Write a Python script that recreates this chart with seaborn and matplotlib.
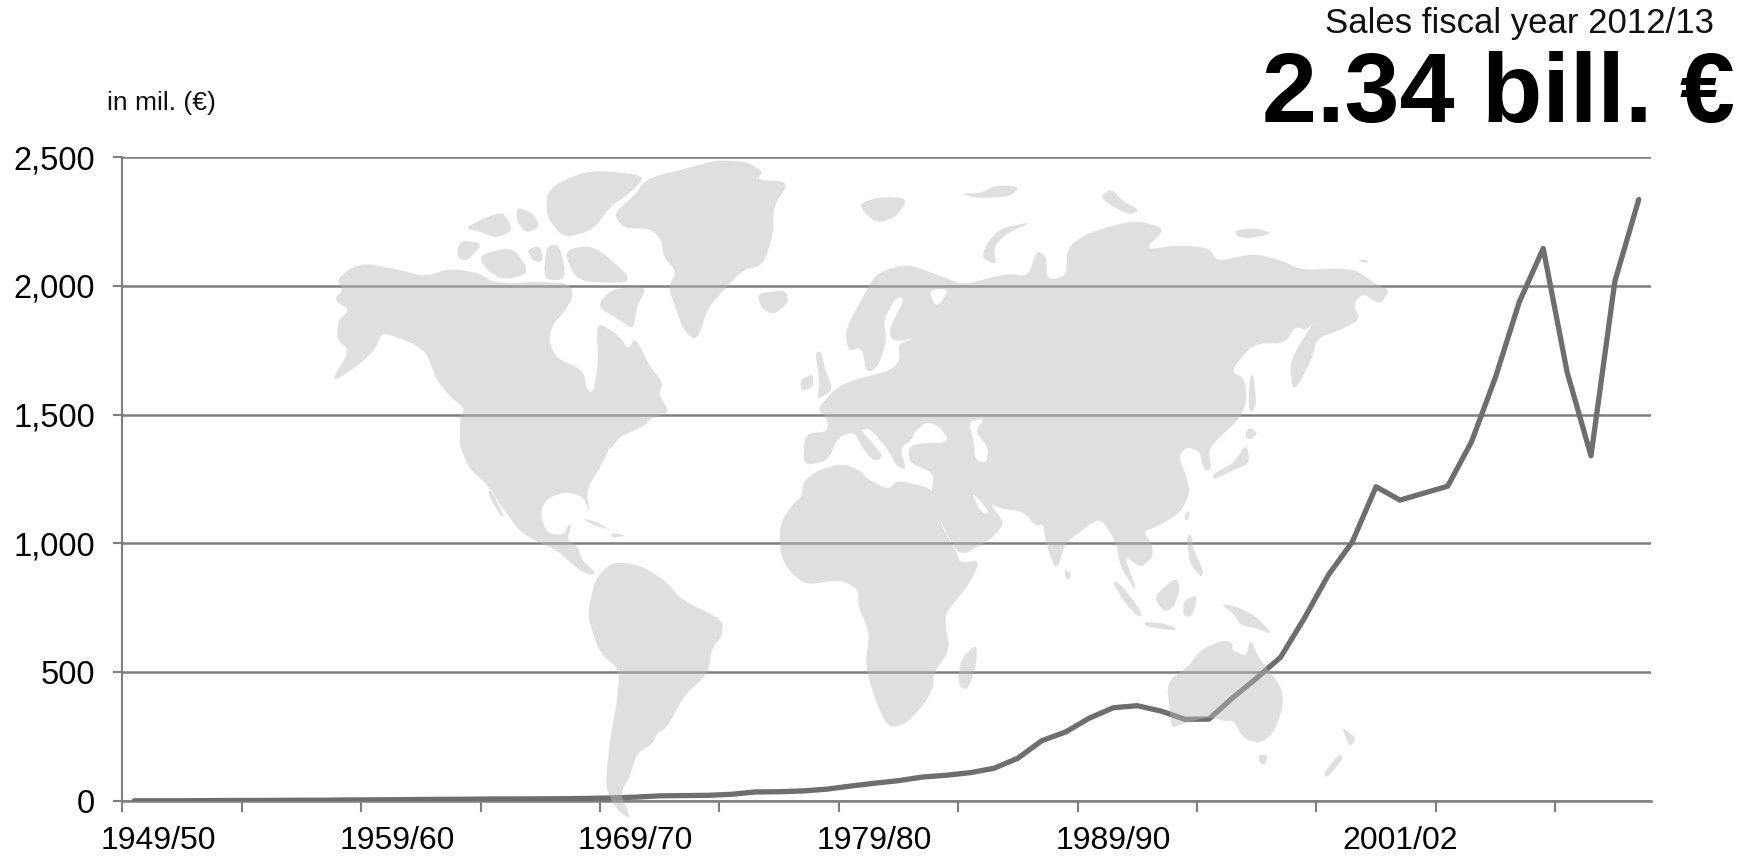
import numpy as np
import pandas as pd
import seaborn as sns
import matplotlib.pyplot as plt
from matplotlib.path import Path
from matplotlib.patches import PathPatch
from matplotlib.transforms import Affine2D

W, H = 1754, 857

# sales in mil. EUR, one value per fiscal year 1949/50 .. 2012/13
start_years = list(range(1949, 2013))
sales = [1, 1, 1, 1.5, 2, 2, 2.5, 3, 3, 4,
         4.5, 5, 6, 6.5, 7, 8, 8, 8.5, 9, 10,
         12, 15, 20, 21, 22, 26, 35, 36, 39, 46,
         58, 69, 79, 93, 100, 110, 127, 166, 234, 268,
         322, 362, 370, 349, 317, 318, 401, 477, 558, 710,
         877, 1005, 1220, 1168, 1195, 1222, 1395, 1645, 1938, 2145,
         1665, 1340, 2018, 2335]
y_ticks = [0, 500, 1000, 1500, 2000, 2500]
labelled_years = [1949, 1959, 1969, 1979, 1989, 2001]

sales_df = pd.DataFrame({"pos": [i + 0.5 for i in range(len(sales))], "sales": sales})


# map outlines, read per zoomed crop: (crop x, crop y, points at 3x)
def crop(x0, y0, pts):
    return [(x0 + a / 3, y0 + b / 3) for a, b in pts]


north_america = crop(300, 150, [(110, 390), (150, 355), (200, 340), (300, 360), (375, 380), (450, 355), (540, 370),
                                (575, 395), (640, 400), (700, 395), (810, 400), (820, 440), (790, 490), (760, 520),
                                (745, 570), (770, 625), (850, 660), (860, 720), (880, 730), (895, 640), (890, 540),
                                (900, 520), (960, 560), (985, 600), (1005, 560), (1050, 650), (1090, 700), (1075, 730),
                                (1110, 790), (1060, 800), (1030, 830), (960, 860), (930, 900)]) \
    + crop(450, 440, [(480, 20), (455, 75), (420, 130), (410, 165), (420, 220), (400, 170), (350, 155), (290, 175),
                      (270, 220), (290, 280), (340, 285), (355, 255), (365, 255), (350, 300), (385, 320), (395, 360),
                      (440, 400), (415, 405), (375, 380), (320, 330), (250, 300), (205, 270), (170, 220), (100, 120),
                      (60, 90), (30, 20), (30, 0)]) \
    + crop(300, 150, [(480, 870), (480, 800), (495, 775), (450, 740), (410, 690), (380, 610), (340, 580), (270, 555),
                      (245, 550), (225, 600), (170, 650), (90, 700), (150, 600), (110, 570), (115, 510), (150, 480),
                      (100, 450), (130, 420)])
arctic = [crop(300, 150, p) for p in [
    [(1040, 85), (1180, 50), (1250, 30), (1340, 35), (1390, 65), (1370, 90), (1470, 95), (1420, 170), (1420, 250),
     (1390, 345), (1330, 360), (1290, 400), (1225, 470), (1190, 575), (1150, 540), (1125, 470), (1105, 410),
     (1130, 365), (1090, 320), (1085, 270), (1050, 235), (970, 235), (940, 190), (1000, 140)],
    [(740, 130), (780, 95), (870, 60), (1040, 75), (990, 130), (930, 170), (880, 240), (790, 265), (740, 200)],
    [(495, 235), (550, 205), (610, 185), (640, 240), (590, 265), (540, 245)],
    [(650, 170), (700, 190), (720, 230), (680, 250), (650, 215)],
    [(480, 270), (550, 280), (500, 335), (470, 320)],
    [(535, 315), (640, 290), (690, 370), (610, 390), (560, 360)],
    [(680, 300), (720, 285), (730, 335), (700, 335)],
    [(740, 285), (780, 285), (800, 390), (730, 390)],
    [(790, 300), (880, 285), (980, 370), (985, 400), (830, 395)],
    [(930, 420), (1000, 410), (1040, 415), (1010, 470), (1000, 540), (960, 510), (890, 470)],
    [(1370, 430), (1460, 420), (1465, 460), (1420, 495), (1385, 475)],
]]
south_america = crop(450, 440, [(440, 410), (490, 365), (570, 375), (650, 425), (695, 480), (820, 540), (815, 590),
                                (785, 625), (775, 700), (700, 770), (650, 865), (620, 880), (610, 910), (560, 940),
                                (540, 1010), (510, 1060), (545, 1140), (500, 1110), (465, 1040), (480, 900),
                                (500, 790), (510, 690), (450, 640), (415, 540), (420, 480)])
africa = crop(760, 420, [(130, 185), (175, 150), (250, 130), (305, 155), (320, 175), (385, 210), (410, 180), (495, 200),
                         (520, 215), (545, 320), (590, 395), (600, 430), (660, 420), (630, 490), (560, 575), (555, 610),
                         (570, 690), (520, 760), (520, 800), (495, 850), (440, 910), (385, 925), (345, 840), (315, 730),
                         (330, 640), (295, 560), (295, 510), (265, 490), (230, 480), (135, 495), (85, 450), (60, 400),
                         (60, 310), (100, 250), (125, 230)])
eurasia = crop(780, 170, [(195, 480), (260, 360), (290, 310), (380, 280), (500, 325), (550, 345), (680, 310), (745, 320),
                          (770, 240), (800, 260), (800, 330), (860, 320), (860, 235), (920, 190), (1060, 150),
                          (1160, 175), (1090, 240), (1200, 225), (1290, 235), (1310, 275), (1420, 250), (1500, 270)]) \
    + crop(1000, 250, [(905, 60), (1000, 55), (1070, 60), (1130, 105), (1170, 120), (1140, 165), (1090, 130),
                       (1060, 160), (1080, 210), (1020, 240), (950, 265), (935, 330), (880, 430), (870, 350),
                       (885, 305), (945, 210), (920, 240), (885, 230), (855, 280), (760, 280), (690, 365), (735, 385),
                       (740, 460), (715, 510), (660, 560), (625, 600), (635, 660), (610, 660), (600, 605), (560, 590),
                       (535, 620), (560, 680), (570, 730), (540, 790), (470, 830), (430, 845), (455, 880)]) \
    + crop(1060, 500, [(280, 170), (240, 205), (190, 160), (235, 285), (180, 200), (170, 130), (130, 65), (110, 60),
                       (60, 95), (15, 130)]) \
    + crop(760, 420, [(890, 455), (860, 380), (850, 310), (830, 320), (790, 275), (720, 265), (690, 250), (735, 310),
                      (690, 360), (600, 410), (560, 340), (510, 235), (525, 160), (450, 130), (445, 90), (465, 70),
                      (570, 68), (540, 20), (500, 5), (465, 35), (455, 60), (420, 85), (440, 150), (410, 140),
                      (385, 90), (330, 25), (300, 30), (335, 65), (370, 110), (345, 125), (310, 90), (285, 35),
                      (235, 50), (205, 120), (150, 135), (130, 125), (135, 40), (205, 35)]) \
    + crop(780, 170, [(140, 740), (110, 720), (170, 650), (240, 625), (335, 600), (360, 570), (355, 520), (410, 505),
                      (340, 515), (325, 480), (375, 385), (350, 380), (310, 450), (320, 510), (295, 590), (260, 610),
                      (245, 530), (205, 545)])
north_islands = [crop(780, 170, p) for p in [
    [(105, 545), (125, 545), (135, 600), (160, 660), (110, 690), (120, 640)],
    [(60, 630), (100, 610), (100, 650), (65, 665)],
    [(240, 100), (300, 80), (385, 85), (350, 140), (290, 160), (250, 125)],
    [(620, 220), (660, 175), (760, 155), (680, 190), (640, 230), (650, 285), (605, 265)],
    [(540, 70), (600, 70), (650, 45), (720, 50), (690, 80), (590, 85)],
    [(960, 80), (995, 55), (1030, 95), (1080, 120), (1050, 135), (990, 105)],
    [(1365, 180), (1430, 175), (1480, 190), (1410, 205), (1370, 200)],
]]
pacific_islands = [crop(1000, 250, p) for p in [
    [(1070, 30), (1105, 30), (1100, 40)],
    [(750, 375), (760, 375), (770, 460), (755, 490), (745, 470)],
    [(740, 580), (750, 640), (700, 660), (640, 690), (640, 670), (700, 640)],
    [(745, 530), (775, 550), (750, 570), (735, 560)],
    [(555, 790), (570, 780), (565, 810), (555, 810)],
]]
oceania = [crop(1060, 500, p) for p in [
    [(380, 105), (395, 105), (400, 150), (430, 210), (425, 235), (390, 190), (385, 150)],
    [(155, 240), (185, 255), (245, 335), (240, 355), (195, 310)],
    [(250, 365), (310, 370), (350, 385), (340, 392), (260, 380)],
    [(280, 290), (350, 230), (360, 270), (340, 325), (310, 335)],
    [(370, 300), (415, 285), (395, 350), (370, 350)],
    [(480, 310), (530, 320), (590, 350), (640, 405), (590, 385), (540, 375), (525, 345)],
    [(320, 545), (385, 500), (420, 450), (490, 420), (520, 430), (515, 450), (560, 470), (570, 415), (600, 480),
     (665, 560), (670, 620), (640, 700), (600, 730), (550, 715), (520, 660), (500, 665), (450, 650), (370, 670),
     (335, 685), (330, 640)],
    [(595, 765), (625, 765), (615, 795), (600, 790)],
    [(845, 680), (890, 715), (870, 740), (860, 720)],
    [(840, 760), (850, 775), (800, 835), (790, 820)],
]]
small_islands = [crop(760, 420, [(650, 670), (650, 730), (625, 810), (595, 800), (600, 720)]),
                 crop(760, 420, [(915, 445), (935, 465), (925, 480), (915, 470)]),
                 crop(450, 440, [(395, 235), (440, 245), (480, 270), (430, 255)]),
                 crop(450, 440, [(480, 280), (530, 285), (490, 295)])]
# inland seas, cut out of the land
holes = [crop(780, 170, [(565, 755), (615, 745), (585, 785), (625, 830), (620, 880), (585, 870), (580, 810)]),
         crop(780, 170, [(445, 360), (510, 355), (470, 415)]),
         crop(760, 420, [(635, 220), (655, 235), (690, 280), (665, 280)]),
         crop(450, 440, [(120, 140), (165, 235), (150, 225), (115, 165)])]
land = [north_america, south_america, africa, eurasia] + arctic + north_islands + pacific_islands + oceania + small_islands


# corner cutting, the coast of the original is soft
def soften(pts, rounds=2):
    pts = np.array(pts)
    for _ in range(rounds):
        nxt = np.roll(pts, -1, axis=0)
        pts = np.column_stack([0.8 * pts + 0.2 * nxt, 0.2 * pts + 0.8 * nxt]).reshape(-1, 2)
    return pts


def ring(pts, ccw=True):
    pts = soften(pts)
    x, y = pts[:, 0], pts[:, 1]
    area = np.sum(x * np.roll(y, -1) - np.roll(x, -1) * y)
    if (area > 0) != ccw:
        pts = pts[::-1]
    codes = [Path.MOVETO] + [Path.LINETO] * (len(pts) - 1) + [Path.CLOSEPOLY]
    return np.vstack([pts, pts[0]]), codes


rings = [ring(p) for p in land] + [ring(p, ccw=False) for p in holes]
map_path = Path(np.vstack([r[0] for r in rings]), sum([r[1] for r in rings], []))

sns.set_theme(style="white")
plt.rcParams["font.family"] = ["Liberation Sans", "DejaVu Sans"]

fig = plt.figure(figsize=(W / 100, H / 100), dpi=100)
ax = fig.add_axes([122.3 / W, 1 - 801 / H, 1528.4 / W, 644 / H])

grey = "#7f7f7f"
sns.lineplot(data=sales_df, x="pos", y="sales", color="#6e6e6e", linewidth=3.8, ax=ax,
             solid_capstyle="round", solid_joinstyle="round", zorder=3)
ax.set_xlim(0, 64)
ax.set_ylim(0, 2500)
ax.set_xlabel("")
ax.set_ylabel("")

ax.yaxis.grid(True, color=grey, linewidth=1.8)
ax.set_axisbelow(True)
for side in ["top", "right"]:
    ax.spines[side].set_visible(False)
for side in ["left", "bottom"]:
    ax.spines[side].set_color(grey)
    ax.spines[side].set_linewidth(1.5)
ax.spines["bottom"].set_linewidth(1.8)

ax.set_yticks(y_ticks)
ax.set_yticklabels([f"{v:,}" for v in y_ticks])
ax.tick_params(axis="y", length=6.5, width=1.5, color=grey, pad=13, labelsize=23.5, labelcolor="black", left=True)
ax.set_xticks(range(0, 64, 5))
ax.set_xticklabels([])
ax.tick_params(axis="x", which="major", length=8, width=1.5, color=grey, bottom=True)
# year labels sit a category and a half to the right of their fiscal year slot
ax.set_xticks([y - start_years[0] + 1.5 for y in labelled_years], minor=True)
ax.set_xticklabels([f"{y}/{(y + 1) % 100:02d}" for y in labelled_years], minor=True)
ax.tick_params(axis="x", which="minor", length=0, pad=18, labelsize=23, labelcolor="black")

# world map lies over the chart, see-through
to_fig = Affine2D().scale(1 / W, -1 / H).translate(0, 1) + fig.transFigure
fig.add_artist(PathPatch(map_path, facecolor="#bababa", edgecolor="none", alpha=0.45, transform=to_fig, zorder=5))

fig.text(216 / W, 1 - 110 / H, "in mil. (€)", ha="right", va="baseline", fontsize=19, color="#111111")
fig.text(1714 / W, 1 - 33 / H, "Sales fiscal year 2012/13", ha="right", va="baseline", fontsize=25, color="#111111")
fig.text(1735 / W, 1 - 122 / H, "2.34 bill. €", ha="right", va="baseline", fontsize=71.2, fontweight="bold", color="black")

fig.savefig("out.png", dpi=100)
